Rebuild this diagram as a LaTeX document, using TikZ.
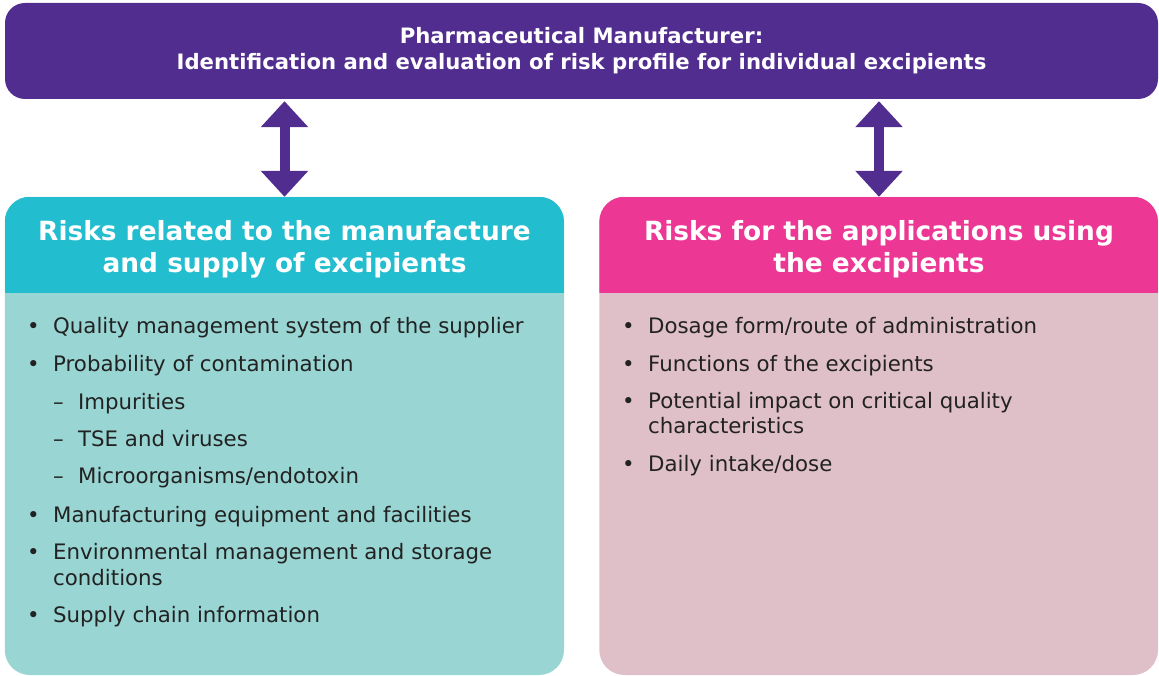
\documentclass[tikz,border=0pt]{standalone}
\usepackage{fontspec}
\setmainfont{DejaVu Sans}
\usepackage{tikz}
\usetikzlibrary{arrows.meta,backgrounds}
\definecolor{mfpurple}{RGB}{81,45,143}
\definecolor{supteal}{RGB}{34,189,206}
\definecolor{suplight}{RGB}{152,213,211}
\definecolor{apppink}{RGB}{236,56,148}
\definecolor{applight}{RGB}{223,192,200}
\definecolor{bodytext}{RGB}{34,34,34}
\newcommand{\bul}{\makebox[26pt][l]{\textbullet}}
\newcommand{\dsh}{\makebox[25pt][l]{–}}

\begin{document}
\begin{tikzpicture}[x=1pt,y=-1pt]
                      \tikzstyle{title}=[rectangle,fill=mfpurple,rounded corners=20pt,text=white,font=\fontsize{21.2}{26}\selectfont\bfseries,align=center,minimum width=1153pt,minimum height=96pt,inner sep=0pt]
                      \tikzstyle{head}=[rectangle,text=white,font=\fontsize{26.4}{32}\selectfont\bfseries,align=center,minimum width=559pt,minimum height=96pt,inner sep=0pt]
                      \tikzstyle{item}=[anchor=base west,inner sep=0pt,text=bodytext,font=\fontsize{21.3}{26}\selectfont]
                      \tikzstyle{dblarrow}=[mfpurple,line width=10pt,{Triangle[width=46pt,length=26pt]}-{Triangle[width=46pt,length=26pt]}]
                      \useasboundingbox (0,0) rectangle (1159,676);
                      \node[title] (mf) at (581.5,51) {Pharmaceutical Manufacturer:\\Identification and evaluation of risk profile for individual excipients};
                      \node[head] (sup) at (284.5,245) {};
                      \node[head] (app) at (879,245) {};
                      \node[head,minimum height=0pt] (suptxt) at (284.5,249) {Risks related to the manufacture\\and supply of excipients};
                      \node[head,minimum height=0pt] (apptxt) at (879,249) {Risks for the applications using\\the excipients};
                      \begin{scope}[on background layer]
                        \fill[suplight,rounded corners=25pt] (sup.north west) rectangle (564,675);
                        \fill[applight,rounded corners=25pt] (app.north west) rectangle (1158,675);
                        \begin{scope}
                          \clip[rounded corners=25pt] (sup.north west) rectangle (564,675);
                          \fill[supteal] (sup.north west) rectangle (sup.south east);
                        \end{scope}
                        \begin{scope}
                          \clip[rounded corners=25pt] (app.north west) rectangle (1158,675);
                          \fill[apppink] (app.north west) rectangle (app.south east);
                        \end{scope}
                      \end{scope}
                      \draw[dblarrow,shorten <=2pt] (mf.south -| sup.north) -- (sup.north);
                      \draw[dblarrow,shorten <=2pt] (mf.south -| app.north) -- (app.north);
                      % manufacture and supply
                      \node[item] (s1) at (27,334) {\bul Quality management system of the supplier};
                      \node[item] (s2) at (27,371) {\bul Probability of contamination};
                      \node[item] (s2a) at (53,409) {\dsh Impurities};
                      \node[item] (s2b) at (53,446) {\dsh TSE and viruses};
                      \node[item] (s2c) at (53,483) {\dsh Microorganisms/endotoxin};
                      \node[item] (s3) at (27,522) {\bul Manufacturing equipment and facilities};
                      \node[item] (s4) at (27,559) {\bul Environmental management and storage};
                      \node[item] (s4b) at (53,585) {conditions};
                      \node[item] (s5) at (27,622) {\bul Supply chain information};
                      % applications
                      \node[item] (a1) at (622,333) {\bul Dosage form/route of administration};
                      \node[item] (a2) at (622,371) {\bul Functions of the excipients};
                      \node[item] (a3) at (622,408) {\bul Potential impact on critical quality};
                      \node[item] (a3b) at (648,433) {characteristics};
                      \node[item] (a4) at (622,471) {\bul Daily intake/dose};
                  \end{tikzpicture}
\end{document}
